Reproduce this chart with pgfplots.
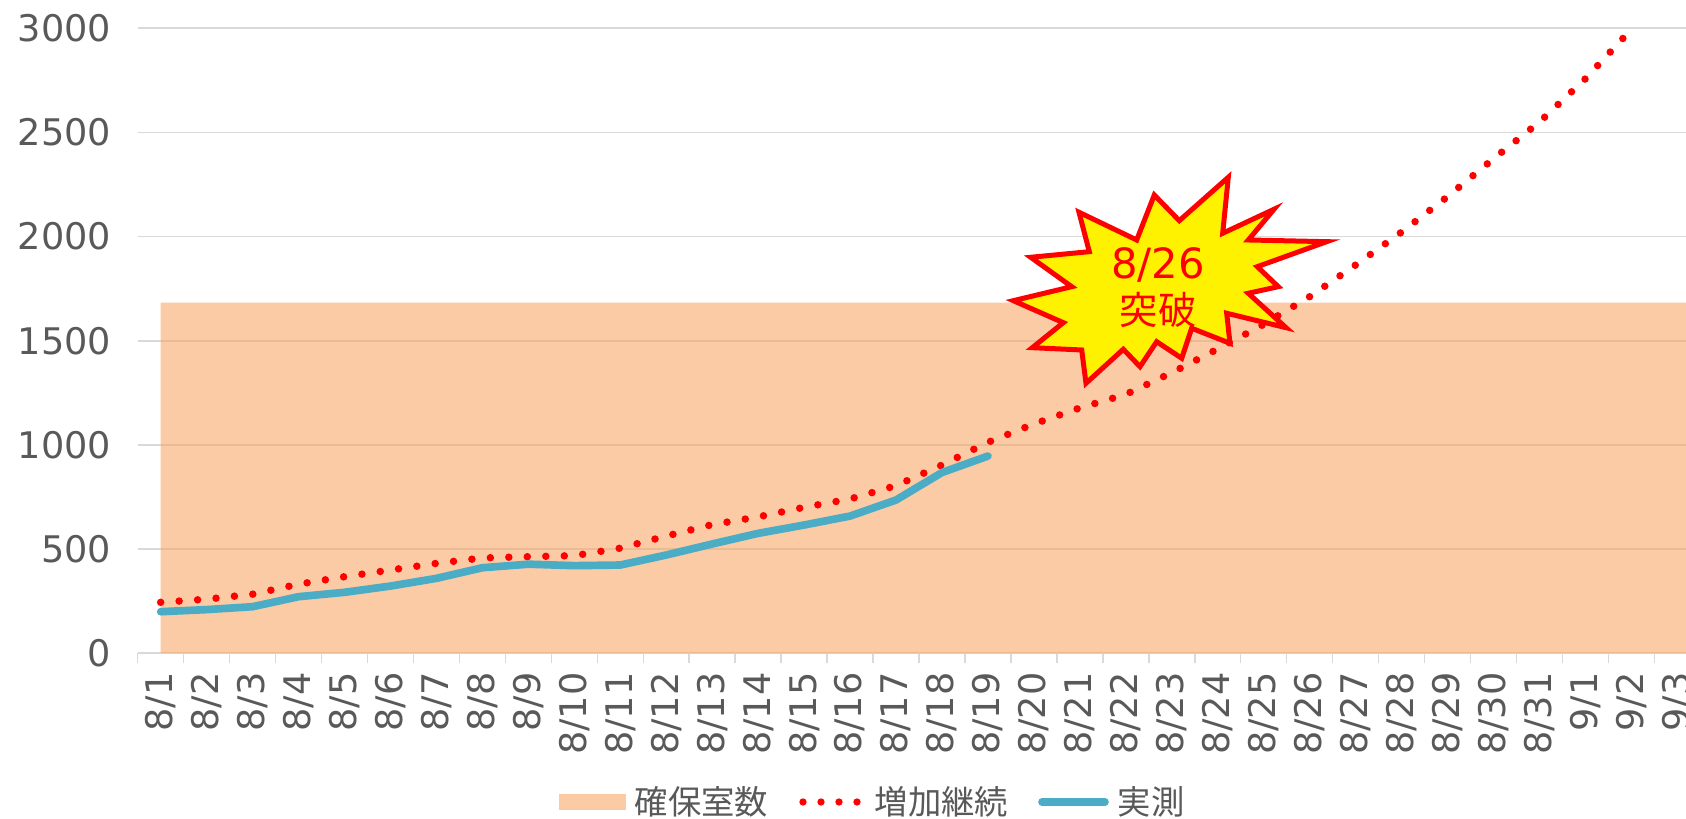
\documentclass[border=0pt]{standalone}
\usepackage{fontspec}
\setmainfont{Noto Sans CJK JP}
\newfontfamily\numfont{DejaVu Sans}
\usepackage{pgfplots}
\pgfplotsset{compat=1.18}

\definecolor{txtgray}{HTML}{595959}
\definecolor{gridgray}{HTML}{D9D9D9}
\definecolor{roomfill}{RGB}{248,168,105}
\definecolor{obsblue}{HTML}{4BACC6}

\begin{document}
\begin{tikzpicture}
\begin{axis}[
  at={(41.31pt,49.68pt)}, anchor=south west,
  scale only axis, width=464.49pt, height=187.53pt,
  xmin=-0.5, xmax=33.188, ymin=0, ymax=3000,
  axis lines*=left,
  y axis line style={draw=none},
  x axis line style={draw=gridgray, line width=0.6pt},
  ymajorgrids,
  major grid style={draw=gridgray, line width=0.5pt},
  ytick={0,500,...,3000},
  yticklabels={0,500,1000,1500,2000,2500,3000},
  ytick style={draw=none},
  yticklabel style={font=\numfont\fontsize{11}{13}\selectfont, text=txtgray,
    inner sep=0pt, anchor=east, xshift=-3.5pt},
  xtick={0,...,33},
  xticklabels={8/1,8/2,8/3,8/4,8/5,8/6,8/7,8/8,8/9,8/10,8/11,8/12,8/13,8/14,8/15,8/16,
    8/17,8/18,8/19,8/20,8/21,8/22,8/23,8/24,8/25,8/26,8/27,8/28,8/29,8/30,8/31,9/1,9/2,9/3},
  major x tick style={draw=none},
  minor xtick={-0.5,0.5,...,32.5},
  minor x tick style={draw=gridgray, line width=0.45pt},
  minor tick length=2.8pt,
  tick align=outside,
  xticklabel style={font=\numfont\fontsize{11}{13}\selectfont, text=txtgray,
    inner sep=0pt, yshift=-1.3pt, rotate=90, anchor=east},
]
% 確保室数
\addplot[draw=none, fill=roomfill, fill opacity=0.6] coordinates {
  (0,1683) (1,1683) (2,1683) (3,1683) (4,1683) (5,1683) (6,1683) (7,1683) (8,1683)
  (9,1683) (10,1683) (11,1683) (12,1683) (13,1683) (14,1683) (15,1683) (16,1683)
  (17,1683) (18,1683) (19,1683) (20,1683) (21,1683) (22,1683) (23,1683) (24,1683)
  (25,1683) (26,1683) (27,1683) (28,1683) (29,1683) (30,1683) (31,1683) (32,1683)
  (33,1683) (34,1683)
} \closedcycle;
% 増加継続
\addplot[red, line width=2.25pt, dash pattern=on 0pt off 5.55pt, line cap=round] coordinates {
  (0,245) (1,260) (2,284) (3,332) (4,368) (5,400) (6,432) (7,458) (8,464) (9,469)
  (10,505) (11,563) (12,618) (13,655) (14,701) (15,741) (16,805) (17,904) (18,1013)
  (19,1101) (20,1178) (21,1243) (22,1347) (23,1461) (24,1579) (25,1712) (26,1864)
  (27,2022) (28,2192) (29,2374) (30,2550) (31,2758) (32,2995)
};
% 実測
\addplot[obsblue, line width=2.3pt, line cap=round, line join=round] coordinates {
  (0,200) (1,210) (2,224) (3,272) (4,293) (5,323) (6,360) (7,411) (8,428) (9,421)
  (10,424) (11,472) (12,525) (13,576) (14,616) (15,659) (16,736) (17,868) (18,947)
};
\end{axis}

\begin{scope}[x=0.3pt, y=-0.3pt, yshift=245.7pt]
  % starburst
  \draw[red, fill=yellow, line width=1.5pt, line join=miter]
    (1228.3,177.3) -- (1222.7,233.3) -- (1274,209.3) -- (1248.3,240) -- (1326.7,241.7)
    -- (1257.3,266.7) -- (1278.3,286.7) -- (1248.3,293.3) -- (1286,327.7) -- (1226.7,313.3)
    -- (1230,343.3) -- (1191.7,328.3) -- (1181.7,358.3) -- (1156.7,341.7) -- (1140,366.7)
    -- (1123.3,349.3) -- (1086,383.3) -- (1081.7,350) -- (1032.3,347.7) -- (1063.3,322.7)
    -- (1013.3,300.7) -- (1071.7,286.7) -- (1030.7,257.3) -- (1089.3,251.7) -- (1079,212.3)
    -- (1136.7,240) -- (1154.3,195) -- (1179.3,220.7) -- cycle;
  \node[text=red, font=\numfont\fontsize{12.5}{14}\selectfont, inner sep=0pt] at (1158,265) {8/26};
  \node[text=red, font=\fontsize{11.5}{13}\selectfont, inner sep=0pt] at (1158.3,310) {突破};

  % legend
  \fill[roomfill, fill opacity=0.6] (559,794) rectangle (626,810);
  \node[anchor=west, inner sep=0pt, text=txtgray, font=\fontsize{10}{12}\selectfont] at (634,802) {確保室数};
  \foreach \x in {803,821,839,857} \fill[red] (\x,802) circle (1.1pt);
  \node[anchor=west, inner sep=0pt, text=txtgray, font=\fontsize{10}{12}\selectfont] at (874,802) {増加継続};
  \draw[obsblue, line width=2.3pt, line cap=round] (1042,802) -- (1105,802);
  \node[anchor=west, inner sep=0pt, text=txtgray, font=\fontsize{10}{12}\selectfont] at (1117,802) {実測};

  \pgfresetboundingbox
  \path[use as bounding box] (0,0) rectangle (1686,819);
\end{scope}
\end{tikzpicture}
\end{document}
